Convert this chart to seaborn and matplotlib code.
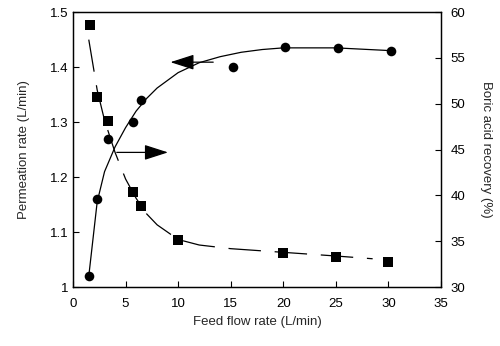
import matplotlib
matplotlib.use("Agg")
import matplotlib.pyplot as plt
import seaborn as sns
import pandas as pd
from matplotlib.ticker import FuncFormatter

# Data
perm_x = [1.5, 2.3, 3.3, 5.7, 6.5, 15.2, 20.2, 25.2, 30.2]
perm_y = [1.02, 1.16, 1.27, 1.30, 1.34, 1.40, 1.437, 1.435, 1.43]
rec_x = [1.6, 2.3, 3.3, 5.7, 6.5, 10.0, 20.0, 25.0, 30.0]
rec_y = [58.6, 50.7, 48.1, 40.4, 38.9, 35.1, 33.7, 33.3, 32.8]

# Fitted curves
perm_fit_x = [1.5, 2.3, 3.0, 4.0, 5.0, 6.0, 7.0, 8.0, 10.0, 12.0, 14.0, 16.0, 18.0, 20.0, 25.0, 30.2]
perm_fit_y = [1.02, 1.155, 1.21, 1.255, 1.29, 1.32, 1.343, 1.362, 1.39, 1.408, 1.419, 1.427, 1.432, 1.435, 1.435, 1.43]
rec_fit_x = [1.5, 2.3, 3.0, 4.0, 5.0, 6.0, 7.0, 8.0, 10.0, 12.0, 15.0, 20.0, 25.0, 28.5]
rec_fit_y = [57.0, 51.5, 48.2, 44.7, 41.8, 39.7, 38.0, 36.8, 35.2, 34.6, 34.2, 33.8, 33.4, 33.1]

x_ticks = [0, 5, 10, 15, 20, 25, 30, 35]
left_ticks = [1.0, 1.1, 1.2, 1.3, 1.4, 1.5]
right_ticks = [30, 35, 40, 45, 50, 55, 60]

sns.set_style("ticks")
plt.rcParams['font.family'] = ['Liberation Sans', 'DejaVu Sans']

fig = plt.figure(figsize=(5.0, 3.46), dpi=100)
ax = fig.add_axes([0.146, 0.170, 0.736, 0.795])
ax2 = ax.twinx()

df_p = pd.DataFrame({"x": perm_x, "y": perm_y})
df_pf = pd.DataFrame({"x": perm_fit_x, "y": perm_fit_y})
df_r = pd.DataFrame({"x": rec_x, "y": rec_y})
df_rf = pd.DataFrame({"x": rec_fit_x, "y": rec_fit_y})

sns.lineplot(data=df_pf, x="x", y="y", ax=ax, color="black", lw=0.9, sort=False)
sns.scatterplot(data=df_p, x="x", y="y", ax=ax, color="black", marker="o", s=48, edgecolor="black", linewidth=0, zorder=5)

sns.lineplot(data=df_rf, x="x", y="y", ax=ax2, color="black", lw=0.9, sort=False)
ax2.lines[-1].set_dashes((26, 11))
sns.scatterplot(data=df_r, x="x", y="y", ax=ax2, color="black", marker="s", s=45, edgecolor="black", linewidth=0, zorder=5)

ax.set_xlim(0, 35)
ax.set_ylim(1.0, 1.5)
ax2.set_ylim(30, 60)
ax.set_xticks(x_ticks)
ax.set_yticks(left_ticks)
ax2.set_yticks(right_ticks)
ax.yaxis.set_major_formatter(FuncFormatter(lambda v, p: "%g" % v))

for a in (ax, ax2):
    a.tick_params(direction="in", length=4, width=0.8, labelsize=9.5, colors="black")
    for s in a.spines.values():
        s.set_visible(True)
        s.set_linewidth(0.9)
        s.set_color("black")
ax.tick_params(axis="x", pad=8)
ax2.tick_params(axis="y", pad=7)

ax.set_xlabel("Feed flow rate (L/min)", fontsize=9.5, labelpad=4)
ax.set_ylabel("Permeation rate (L/min)", fontsize=9.5, labelpad=14)
ax2.set_ylabel("Boric acid recovery (%)", fontsize=9.5, rotation=270, labelpad=19)

arrow_kw = dict(arrowstyle="-|>,head_length=1.4,head_width=0.45", color="black", lw=0.9, mutation_scale=10.5)
ax.annotate("", xy=(9.0, 1.409), xytext=(13.6, 1.409), arrowprops=arrow_kw)
ax.annotate("", xy=(9.3, 1.245), xytext=(3.9, 1.245), arrowprops=arrow_kw)

fig.savefig("out.png", dpi=100)
